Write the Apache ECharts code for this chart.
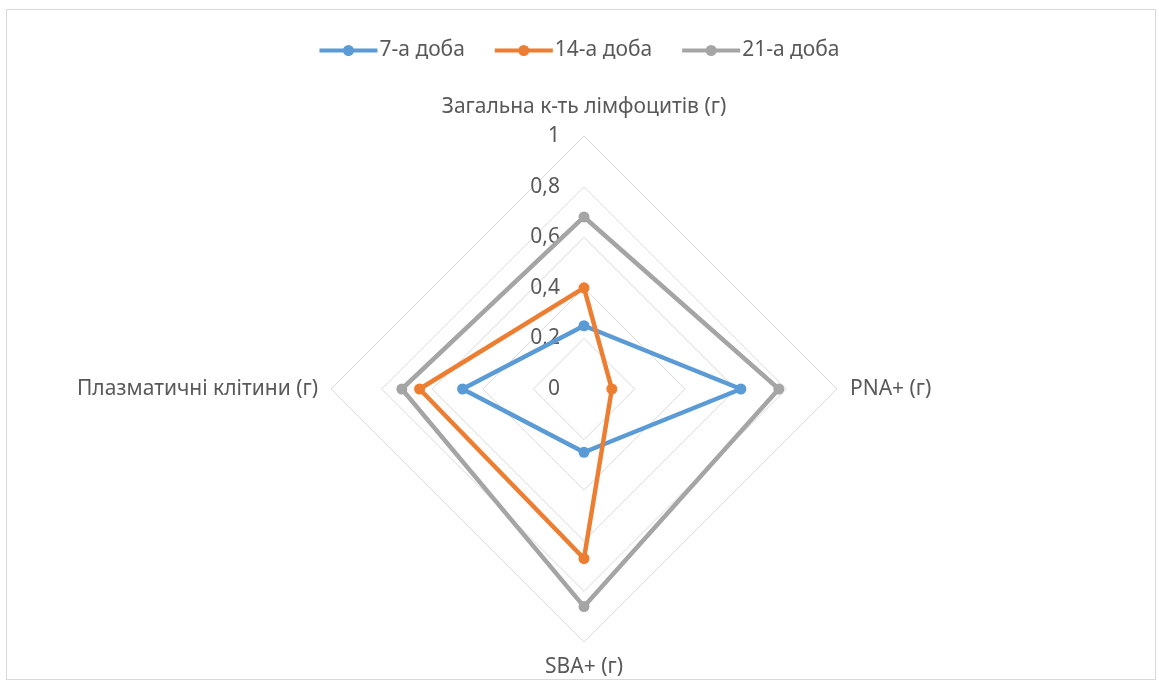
<!DOCTYPE html>
<html>
<head>
<meta charset="utf-8">
<script src="https://cdn.jsdelivr.net/npm/echarts@6/dist/echarts.min.js"></script>
<style>
  html, body { margin: 0; padding: 0; background: #fff; }
  #frame { position: absolute; left: 6px; top: 9px; width: 1148px; height: 669px; border: 1px solid #d9d9d9; }
  #chart { position: absolute; left: 0; top: 0; width: 1159px; height: 680px; }
</style>
</head>
<body>
<div id="frame"></div>
<div id="chart"></div>
<script>
// Indicators, listed counter-clockwise starting from the top
const indicatorNames = ['Загальна к-ть лімфоцитів (г)', 'Плазматичні клітини (г)', 'SBA+ (г)', 'PNA+ (г)'];
const seriesNames = ['7-а доба', '14-а доба', '21-а доба'];
const day7 = [0.25, 0.48, 0.25, 0.62];
const day14 = [0.40, 0.65, 0.67, 0.11];
const day21 = [0.68, 0.72, 0.86, 0.77];
const colors = ['#5B9BD5', '#ED7D31', '#A5A5A5'];
const axisMax = 1;

// legend marker: a thick line with a dot in the middle
const legendIcon = 'path://M0,4 L58,4 L58,8 L0,8 Z M29,0.5 A5.5,5.5 0 1 1 28.99,0.5 Z';

const chart = echarts.init(document.getElementById('chart'), null, { renderer: 'canvas' });
const font = 'Noto Sans';
const fs = 21;

chart.setOption({
  animation: false,
  color: colors,
  legend: {
    top: 35,
    left: 'center',
    itemWidth: 58,
    itemHeight: 12,
    itemGap: 30,
    icon: legendIcon,
    textStyle: { fontFamily: font, fontSize: fs, color: '#595959', padding: [0, 0, 0, -3] },
    data: seriesNames
  },
  radar: {
    center: [584, 389],
    radius: 253,
    startAngle: 90,
    shape: 'polygon',
    splitNumber: 5,
    nameGap: 13,
    axisName: {
      fontFamily: font, fontSize: fs, color: '#595959',
      formatter: (name) => {
        if (name === indicatorNames[0]) return '{t|' + name + '}';
        if (name === indicatorNames[2]) return '{b|' + name + '}';
        return name;
      },
      rich: {
        t: { fontFamily: font, fontSize: fs, color: '#595959', padding: [0, 0, 5, 0] },
        b: { fontFamily: font, fontSize: fs, color: '#595959', padding: [2, 0, 0, 0] }
      }
    },
    axisLine: { show: false },
    axisTick: { show: false },
    splitArea: { show: false },
    splitLine: { lineStyle: { color: '#d9d9d9', width: 1 } },
    axisLabel: {
      show: false,
      fontFamily: font,
      fontSize: fs,
      color: '#595959',
      margin: 24,
      formatter: v => String(+v.toFixed(1)).replace('.', ',')
    },
    indicator: indicatorNames.map((n, i) => ({
      name: n, min: 0, max: axisMax,
      axisLabel: { show: i === 0 }
    }))
  },
  series: [{
    type: 'radar',
    symbol: 'circle',
    symbolSize: 11,
    data: [
      { name: seriesNames[0], value: day7, itemStyle: { color: colors[0] }, lineStyle: { color: colors[0], width: 4.5 } },
      { name: seriesNames[1], value: day14, itemStyle: { color: colors[1] }, lineStyle: { color: colors[1], width: 4.5 } },
      { name: seriesNames[2], value: day21, itemStyle: { color: colors[2] }, lineStyle: { color: colors[2], width: 4.5 } }
    ]
  }]
});
</script>
</body>
</html>
